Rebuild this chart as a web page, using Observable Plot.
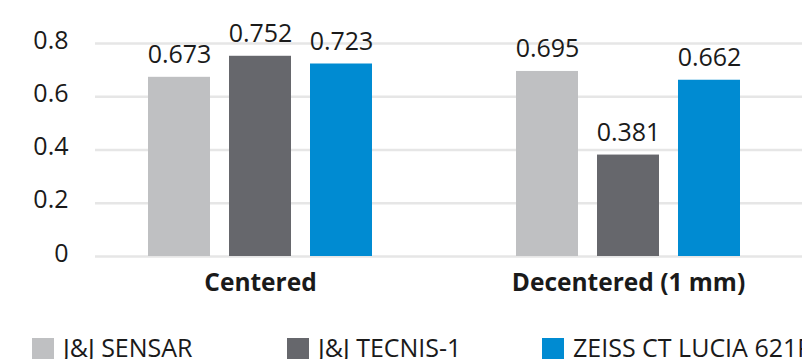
<!DOCTYPE html>
<html>
<head>
<meta charset="utf-8">
<script src="https://cdn.jsdelivr.net/npm/d3@7"></script>
<script src="https://cdn.jsdelivr.net/npm/@observablehq/plot@0.6"></script>
<style>
  html, body { margin: 0; padding: 0; background: #fff; overflow: hidden; }
  #wrap { width: 830px; font-family: "Open Sans", sans-serif; color: #1a1a1a; }
  .legend { display: flex; padding-left: 32px; margin-top: 28px; }
  .legend .item { width: 255px; display: flex; align-items: flex-start; flex: none; }
  .legend .sw { width: 22px; height: 22px; flex: none; }
  .legend .lab { margin-left: 9px; font-size: 25px; line-height: 24px; margin-top: -3px; white-space: nowrap; }
</style>
</head>
<body>
<div id="wrap"></div>
<script>
const groups = ["Centered", "Decentered (1 mm)"];
const series = ["J&J SENSAR", "J&J TECNIS-1", "ZEISS CT LUCIA 621P"];
const centered = [0.673, 0.752, 0.723];
const decentered = [0.695, 0.381, 0.662];
const colors = ["#bfc0c2", "#66676c", "#008bd2"];
const yTicks = [0, 0.2, 0.4, 0.6, 0.8];

const values = [centered, decentered];
const data = groups.flatMap((g, gi) => series.map((s, si) => ({group: g, series: s, value: values[gi][si]})));
const grid0 = yTicks.map(t => ({t, g: groups[0]}));
const grid1 = yTicks.map(t => ({t, g: groups[1]}));

const chart = Plot.plot({
  width: 830,
  height: 310,
  marginLeft: 76,
  marginRight: 18,
  marginTop: 43,
  marginBottom: 54,
  style: {fontFamily: "'Open Sans', sans-serif", fontSize: "24px", color: "#1a1a1a", maxWidth: "none", overflow: "visible", background: "#fff"},
  fx: {domain: groups, padding: 0, label: null},
  x: {domain: series, paddingInner: 0.239, paddingOuter: 0.877, axis: null},
  y: {domain: [0, 0.8], axis: null},
  color: {domain: series, range: colors},
  marks: [
    Plot.ruleY(grid0, {y: "t", fx: "g", stroke: "#e6e6e6", strokeWidth: 2.5, insetLeft: 19}),
    Plot.ruleY(grid1, {y: "t", fx: "g", stroke: "#e6e6e6", strokeWidth: 2.5}),
    Plot.axisY(yTicks, {tickSize: 0, tickPadding: 8, fontSize: 25, dy: -3, label: null, tickFormat: d => String(d)}),
    Plot.axisFx({anchor: "bottom", tickSize: 0, tickPadding: 17, fontSize: 24.5, fontWeight: "bold", label: null}),
    Plot.barY(data, {fx: "group", x: "series", y: "value", fill: "series"}),
    Plot.text(data, {fx: "group", x: "series", y: "value", text: d => d.value.toFixed(3), dy: -14, lineAnchor: "bottom", fontSize: 25, fill: "#1a1a1a"})
  ]
});

const wrap = document.getElementById("wrap");
wrap.appendChild(chart);

const legend = document.createElement("div");
legend.className = "legend";
series.forEach((s, i) => {
  const item = document.createElement("div");
  item.className = "item";
  const sw = document.createElement("span");
  sw.className = "sw";
  sw.style.background = colors[i];
  const lab = document.createElement("span");
  lab.className = "lab";
  lab.textContent = s;
  item.appendChild(sw);
  item.appendChild(lab);
  legend.appendChild(item);
});
wrap.appendChild(legend);
</script>
</body>
</html>
